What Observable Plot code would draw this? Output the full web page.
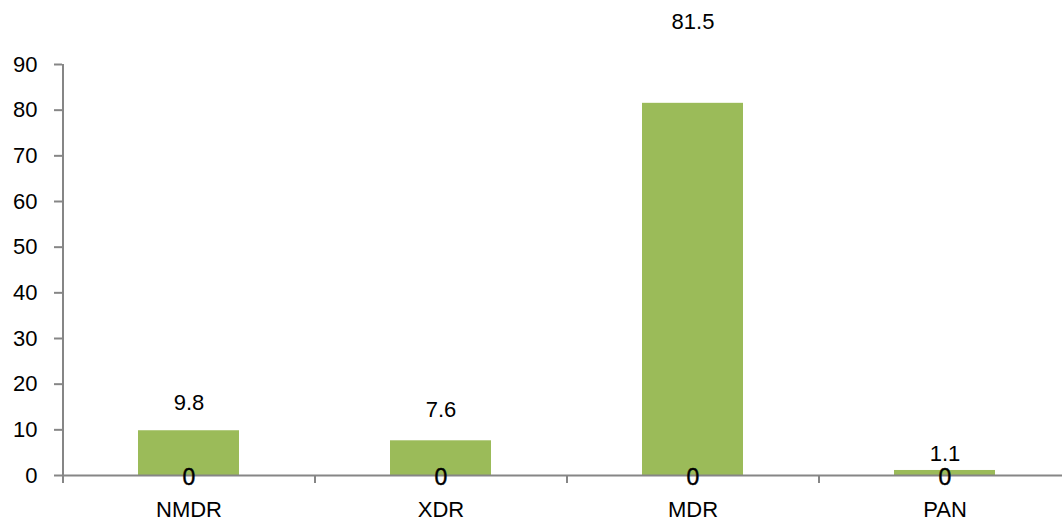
<!DOCTYPE html>
<html>
<head>
<meta charset="utf-8">
<script src="https://cdn.jsdelivr.net/npm/d3@7"></script>
<script src="https://cdn.jsdelivr.net/npm/@observablehq/plot@0.6"></script>
<style>
  html, body { margin: 0; padding: 0; background: #fff; }
  #chart svg { display: block; }
</style>
</head>
<body>
<div id="chart"></div>
<script>
const categories = ["NMDR", "XDR", "MDR", "PAN"];
const values = [9.8, 7.6, 81.5, 1.1];
const zeroSeries = [0, 0, 0, 0];
const yTicks = [0, 10, 20, 30, 40, 50, 60, 70, 80, 90];

const data = categories.map((c, i) => ({cat: c, value: values[i], zero: zeroSeries[i]}));

// Label offsets (Excel placement)
const labelDy = {NMDR: -28, XDR: -31, MDR: -81, PAN: -17};
const axisColor = "#868686";
const font = "Liberation Sans, Arial, sans-serif";

const marks = [
  Plot.barY(data, {x: "cat", y: "value", fill: "#9BBB59"}),
  Plot.ruleY([0], {stroke: axisColor, strokeWidth: 2}),
  Plot.ruleX([categories[0]], {dx: -126, y1: 0, y2: 90, stroke: axisColor, strokeWidth: 2}),
  Plot.axisY({ticks: yTicks, tickSize: 8, tickPadding: 17, stroke: axisColor, strokeWidth: 2, fill: "black", fontSize: 22, label: null}),
  Plot.axisX({tickSize: 8, dx: -126, tickFormat: () => "", stroke: axisColor, strokeWidth: 2, label: null}),
  Plot.text(categories, {x: d => d, y: () => 0, dy: 34, text: d => d, fill: "black", fontSize: 22}),
  ...categories.map(c => Plot.text(data.filter(d => d.cat === c), {x: "cat", y: "value", text: d => String(d.value), dy: labelDy[c], fill: "black", fontSize: 22})),
  Plot.text(data, {x: "cat", y: "zero", text: d => String(d.zero), dy: 2, fill: "black", fontSize: 23, stroke: "black", strokeWidth: 0.4})
];

const chart = Plot.plot({
  width: 1062,
  height: 520,
  marginLeft: 62,
  marginRight: 0,
  marginTop: 64,
  marginBottom: 45,
  style: {fontFamily: font, color: "black", background: "white", overflow: "visible"},
  x: {domain: categories, range: [62, 1070], paddingInner: 0.6, paddingOuter: 0.3, axis: null},
  y: {domain: [0, 90], axis: null},
  marks
});
document.getElementById("chart").appendChild(chart);
</script>
</body>
</html>
